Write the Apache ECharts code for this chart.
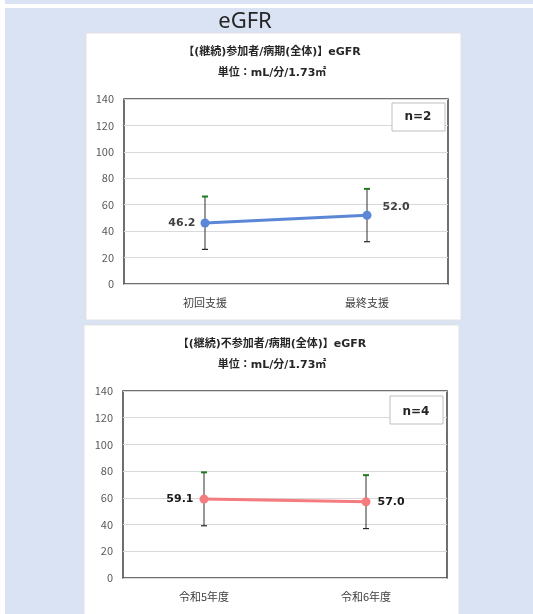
<!DOCTYPE html>
<html><head><meta charset="utf-8">
<script src="https://cdn.jsdelivr.net/npm/echarts@6/dist/echarts.min.js"></script>
<style>html,body{margin:0;padding:0;background:#fff}#c{width:533px;height:614px}</style>
</head><body><div id="c"></div>
<script>
// ---- data ----
const pageTitle = 'eGFR';
const title1 = '【(継続)参加者/病期(全体)】eGFR';
const title2 = '【(継続)不参加者/病期(全体)】eGFR';
const unitText = '単位：mL/分/1.73㎡';
const categories1 = ['初回支援', '最終支援'];
const values1 = [46.2, 52.0];
const high1 = [66.2, 72.0];
const low1 = [26.2, 32.0];
const n1 = 'n=2';
const categories2 = ['令和5年度', '令和6年度'];
const values2 = [59.1, 57.0];
const high2 = [79.1, 77.0];
const low2 = [39.1, 37.0];
const n2 = 'n=4';
const yTicks = [0, 20, 40, 60, 80, 100, 120, 140];

const FONT = '"Noto Sans CJK JP", "Noto Sans", sans-serif';
const BFONT = '"DejaVu Sans", "Noto Sans CJK JP", sans-serif';
const chart = echarts.init(document.getElementById('c'));

function errSeries(gi, high, low) {
  return {
    type: 'custom', xAxisIndex: gi, yAxisIndex: gi, z: 3,
    data: high.map((h, i) => [i, low[i], h]),
    renderItem: function (params, api) {
      const x = api.coord([api.value(0), 0])[0];
      const yl = api.coord([0, api.value(1)])[1];
      const yh = api.coord([0, api.value(2)])[1];
      return {
        type: 'group', children: [
          { type: 'line', shape: { x1: x, y1: yl, x2: x, y2: yh }, style: { stroke: '#303030', lineWidth: 1 } },
          { type: 'line', shape: { x1: x - 3, y1: yl, x2: x + 3, y2: yl }, style: { stroke: '#262626', lineWidth: 1.2 } },
          { type: 'line', shape: { x1: x - 3, y1: yh, x2: x + 3, y2: yh }, style: { stroke: '#1e7a1e', lineWidth: 2 } }
        ]
      };
    }
  };
}

function lineSeries(gi, values, color, labelColor, labelCfgs) {
  return {
    type: 'line', xAxisIndex: gi, yAxisIndex: gi, z: 4,
    data: values.map((v, i) => ({ value: v, label: labelCfgs[i] })),
    symbol: 'circle', symbolSize: 9,
    lineStyle: { color: color, width: 3 },
    itemStyle: { color: color },
    label: {
      show: true, fontFamily: BFONT, fontSize: 11, fontWeight: 'bold', color: labelColor,
      formatter: p => p.value.toFixed(1)
    }
  };
}

function yAxis(gi) {
  return {
    gridIndex: gi, type: 'value', min: yTicks[0], max: yTicks[yTicks.length - 1], interval: yTicks[1] - yTicks[0],
    axisLine: { show: false }, axisTick: { show: false },
    axisLabel: { color: '#595959', fontFamily: FONT, fontSize: 11, margin: 10 },
    splitLine: { lineStyle: { color: '#d9d9d9', width: 1 } }
  };
}
function xAxis(gi, cats) {
  return {
    gridIndex: gi, type: 'category', data: cats, boundaryGap: true,
    axisLine: { show: false }, axisTick: { show: false },
    axisLabel: { color: '#404040', fontFamily: FONT, fontSize: 11, margin: 13 }
  };
}

chart.setOption({
  animation: false,
  backgroundColor: '#ffffff',
  graphic: [
    { type: 'rect', z: -10, shape: { x: 5, y: 0, width: 528, height: 4 }, style: { fill: '#dae3f3' } },
    { type: 'rect', z: -10, shape: { x: 5, y: 8, width: 528, height: 606 }, style: { fill: '#dae3f3' } },
    { type: 'rect', z: -9, shape: { x: 86, y: 33, width: 375, height: 287 }, style: { fill: '#ffffff', stroke: '#e2e2e2', lineWidth: 1 } },
    { type: 'rect', z: -9, shape: { x: 84, y: 325, width: 375, height: 300 }, style: { fill: '#ffffff', stroke: '#e2e2e2', lineWidth: 1 } },
    { type: 'text', z: 5, style: { text: pageTitle, x: 245, y: 22, align: 'center', verticalAlign: 'middle', font: '22px "Noto Sans", sans-serif', fill: '#262626' } },
    { type: 'text', z: 5, style: { text: title1, x: 272, y: 52, align: 'center', verticalAlign: 'middle', font: 'bold 11px ' + BFONT, fill: '#262626' } },
    { type: 'text', z: 5, style: { text: unitText, x: 272, y: 73, align: 'center', verticalAlign: 'middle', font: 'bold 11px ' + BFONT, fill: '#262626' } },
    { type: 'text', z: 5, style: { text: title2, x: 272, y: 344, align: 'center', verticalAlign: 'middle', font: 'bold 11px ' + BFONT, fill: '#262626' } },
    { type: 'text', z: 5, style: { text: unitText, x: 272, y: 365, align: 'center', verticalAlign: 'middle', font: 'bold 11px ' + BFONT, fill: '#262626' } },
    { type: 'rect', z: 5, shape: { x: 392, y: 103, width: 53, height: 28 }, style: { fill: '#ffffff', stroke: '#bfbfbf', lineWidth: 1 } },
    { type: 'text', z: 6, style: { text: n1, x: 418, y: 117, align: 'center', verticalAlign: 'middle', font: 'bold 12px ' + BFONT, fill: '#262626' } },
    { type: 'rect', z: 5, shape: { x: 390, y: 396, width: 53, height: 28 }, style: { fill: '#ffffff', stroke: '#bfbfbf', lineWidth: 1 } },
    { type: 'text', z: 6, style: { text: n2, x: 416, y: 412, align: 'center', verticalAlign: 'middle', font: 'bold 12px ' + BFONT, fill: '#262626' } }
  ],
  grid: [
    { left: 124, top: 99, width: 324, height: 185, show: true, borderColor: '#404040', borderWidth: 1.5, backgroundColor: 'transparent' },
    { left: 123, top: 391, width: 324, height: 187, show: true, borderColor: '#404040', borderWidth: 1.5, backgroundColor: 'transparent' }
  ],
  xAxis: [xAxis(0, categories1), xAxis(1, categories2)],
  yAxis: [yAxis(0), yAxis(1)],
  series: [
    errSeries(0, high1, low1),
    lineSeries(0, values1, '#5b87d6', '#404040', [{ position: 'left', distance: 5 }, { position: 'right', distance: 0, offset: [11, -8] }]),
    errSeries(1, high2, low2),
    lineSeries(1, values2, '#f47b7e', '#1a1a1a', [{ position: 'left', distance: 6 }, { position: 'right', distance: 7 }])
  ]
});
</script></body></html>
